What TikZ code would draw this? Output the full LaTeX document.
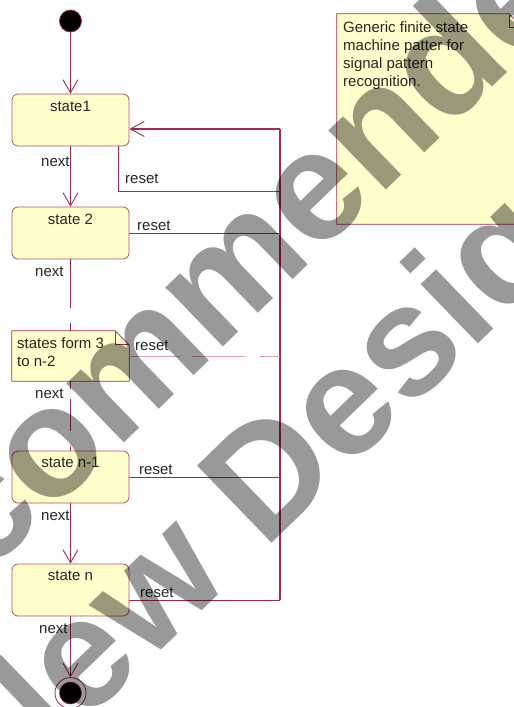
\documentclass[tikz,border=0pt]{standalone}
\usepackage{fontspec}
\setmainfont{Liberation Sans}
\usetikzlibrary{arrows.meta}
\definecolor{conncol}{RGB}{165,40,75}
\definecolor{boxcol}{RGB}{185,75,100}
\definecolor{fillcol}{RGB}{255,255,204}
\definecolor{dashcol}{RGB}{215,160,175}
\begin{document}
\begin{tikzpicture}[x=1pt,y=-1pt,
  state/.style={draw=boxcol,fill=fillcol,rounded corners=6pt,minimum width=117pt,minimum height=52pt,line width=0.8pt,inner sep=0pt},
  lbl/.style={inner sep=0pt,font=\fontsize{15}{18}\selectfont,text=black!85},
  conn/.style={draw=conncol,line width=0.9pt},
  bus/.style={draw=conncol,line width=1.8pt},
  tip/.style={-{Straight Barb[length=13pt,width=15pt,line width=0.9pt]}},
  wm/.style={inner sep=0pt,font=\fontsize{156}{180}\selectfont\bfseries,text=black,text opacity=0.4}]
\useasboundingbox (0,0) rectangle (514,707);
\clip (0,0) rectangle (514,707);
% initial
\node[circle,fill=black,draw=conncol,line width=0.8pt,minimum size=22pt,inner sep=0pt] (init) at (70.5,21) {};
% states
\node[state] (s1) at (70.5,120) {};
\node[lbl,anchor=base] (s1l) at (70.5,111) {state1};
\node[state] (s2) at (70.5,233) {};
\node[lbl,anchor=base] (s2l) at (70.5,224) {state 2};
\node[state] (s3) at (70.5,477) {};
\node[lbl,anchor=base] (s3l) at (70.5,467) {state n-1};
\node[state] (s4) at (70.5,590) {};
\node[lbl,anchor=base] (s4l) at (70.5,580) {state n};
% small note
\node[minimum width=117pt,minimum height=50pt,inner sep=0pt] (note) at (70.5,356) {};
\draw[draw=conncol,fill=fillcol,line width=0.8pt] (note.north west) -- ([xshift=-14pt]note.north east) -- ([yshift=-14pt]note.north east) -- (note.south east) -- (note.south west) -- cycle;
\draw[draw=conncol,line width=0.8pt] ([xshift=-14pt]note.north east) -- ([xshift=-14pt,yshift=-14pt]note.north east) -- ([yshift=-14pt]note.north east);
\node[lbl,anchor=north west,align=left] (notet) at (17,337) {states form 3\\to n-2};
% big note
\node[minimum width=186pt,minimum height=210pt,inner sep=0pt] (bnote) at (430,119) {};
\draw[draw=conncol,fill=fillcol,line width=0.8pt] (bnote.north west) -- ([xshift=-14pt]bnote.north east) -- ([yshift=-14pt]bnote.north east) -- (bnote.south east) -- (bnote.south west) -- cycle;
\draw[draw=conncol,line width=0.8pt] ([xshift=-14pt]bnote.north east) -- ([xshift=-14pt,yshift=-14pt]bnote.north east) -- ([yshift=-14pt]bnote.north east);
\node[lbl,anchor=north west,align=left] (bnotet) at (343,21) {Generic finite state\\machine patter for\\signal pattern\\recognition.};
% final
\node[circle,draw=conncol,fill=white,line width=0.8pt,minimum size=31pt,inner sep=0pt] (fin) at (70.5,693) {};
\node[circle,fill=black,draw=conncol,line width=0.5pt,minimum size=22pt,inner sep=0pt] (finc) at (70.5,693) {};
% next transitions
\draw[conn,tip] (init) -- (s1);
\draw[conn,tip] (s1) -- (s2);
\draw[conn,dash pattern=on 49pt off 15pt] (s2) -- (note);
\draw[conn,dash pattern=on 8pt off 10pt on 32pt off 15pt on 10pt] (note) -- (s3);
\draw[conn,tip] (s3) -- (s4);
\draw[conn,tip] (s4) -- (fin);
\node[lbl,anchor=base west] (n1) at (41,166) {next};
\node[lbl,anchor=base west] (n2) at (35,276) {next};
\node[lbl,anchor=base west] (n3) at (35,398) {next};
\node[lbl,anchor=base west] (n4) at (41,520) {next};
\node[lbl,anchor=base west] (n5) at (39,633) {next};
% reset bus
\coordinate (bt) at (280,129);
\coordinate (bb) at (280,600);
\coordinate (r1) at (118,191);
\draw[bus] (bt) -- (bb);
\draw[bus,-{Straight Barb[length=14pt,width=15pt,line width=0.9pt]}] (bt) -- (bt -| s1.east);
\draw[conn] (s1.south -| r1) -- (r1) -- (r1 -| bt);
\draw[conn] (s2.east) -- (s2.east -| bt);
\draw[draw=dashcol,line width=0.9pt,dash pattern=on 51pt off 12pt on 53pt off 15pt] (note.east) -- (note.east -| bt);
\draw[conn] (s3.east) -- (s3.east -| bt);
\draw[conn] (bb -| s4.east) -- (bb);
\node[lbl,anchor=base west] (rs1) at (125,183) {reset};
\node[lbl,anchor=base west] (rs2) at (137,230) {reset};
\node[lbl,anchor=base west] (rs3) at (135,350) {reset};
\node[lbl,anchor=base west] (rs4) at (139,474) {reset};
\node[lbl,anchor=base west] (rs5) at (140,597) {reset};
% watermark
\node[wm,rotate=44,anchor=base] (wm1) at (244,327) {Recommended};
\node[wm,rotate=44,anchor=base] (wm2) at (321,496) {New Design};
\end{tikzpicture}
\end{document}
